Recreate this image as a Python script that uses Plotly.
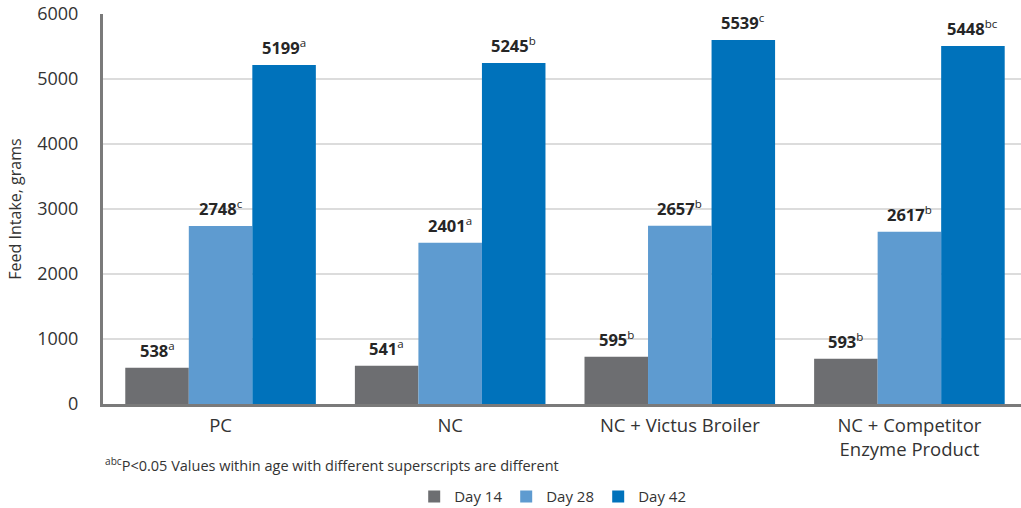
import plotly.graph_objects as go

categories = ["PC", "NC", "NC + Victus Broiler", "NC + Competitor<br>Enzyme Product"]

# bar heights as drawn in the picture
day14 = [558, 590, 728, 697]
day28 = [2738, 2482, 2743, 2651]
day42 = [5215, 5246, 5600, 5508]

# printed labels (value, superscript)
day14_lbl = [("538", "a"), ("541", "a"), ("595", "b"), ("593", "b")]
day28_lbl = [("2748", "c"), ("2401", "a"), ("2657", "b"), ("2617", "b")]
day42_lbl = [("5199", "a"), ("5245", "b"), ("5539", "c"), ("5448", "bc")]

series = [
    ("Day 14", day14, day14_lbl, "#6d6e71"),
    ("Day 28", day28, day28_lbl, "#5e9bd0"),
    ("Day 42", day42, day42_lbl, "#0072bb"),
]

FONT = "Open Sans"
BARGAP = 0.17
bw = (1 - BARGAP) / len(series)

fig = go.Figure()
annotations = []
for si, (name, vals, lbls, col) in enumerate(series):
    fig.add_trace(go.Bar(
        name=name, x=categories, y=vals, marker=dict(color=col, line=dict(width=0)),
        hoverinfo="skip",
    ))
    off = (si - (len(series) - 1) / 2) * bw
    for ci, (v, s) in enumerate(lbls):
        annotations.append(dict(
            x=ci + off, y=vals[ci], xref="x", yref="y",
            text=f"<b>{v}</b><sup>{s}</sup>", showarrow=False,
            xanchor="center", yanchor="bottom", yshift=4,
            font=dict(family=FONT, size=16.5, color="#262626"),
        ))

annotations.append(dict(
    text="<sup>abc</sup>P<0.05 Values within age with different superscripts are different",
    xref="paper", yref="paper", x=0, xanchor="left", y=-0.155, yanchor="middle",
    showarrow=False, font=dict(family=FONT, size=14.5, color="#333333"),
))

fig.update_layout(
    width=1021, height=508,
    margin=dict(l=103, r=0, t=14, b=104, autoexpand=False),
    paper_bgcolor="white", plot_bgcolor="white",
    barmode="group", bargap=BARGAP, bargroupgap=0,
    font=dict(family=FONT, color="#333333"),
    showlegend=True,
    legend=dict(orientation="h", x=0.339, xanchor="left", y=-0.238, yanchor="middle",
                xref="paper", font=dict(family=FONT, size=15, color="#333333"),
                itemwidth=30, entrywidth=47, entrywidthmode="pixels", traceorder="normal"),
    xaxis=dict(range=[-0.512, 3.486], showgrid=False, showline=True, linecolor="#7a7a7a",
               linewidth=3, ticks="", tickfont=dict(family=FONT, size=18.5, color="#333333"),
               ticklabelstandoff=3, automargin=False),
    yaxis=dict(range=[0, 6000], tickvals=[0, 1000, 2000, 3000, 4000, 5000, 6000],
               showgrid=True, gridcolor="#dcdcdc", gridwidth=1.5, zeroline=False,
               showline=True, linecolor="#7a7a7a", linewidth=3, ticks="",
               tickfont=dict(family=FONT, size=18, color="#333333"), ticklabelstandoff=18,
               automargin=False,
               title=dict(text="Feed Intake, grams", font=dict(family=FONT, size=16, color="#333333"),
                          standoff=12)),
    annotations=annotations,
)

fig.write_html("out.html")
